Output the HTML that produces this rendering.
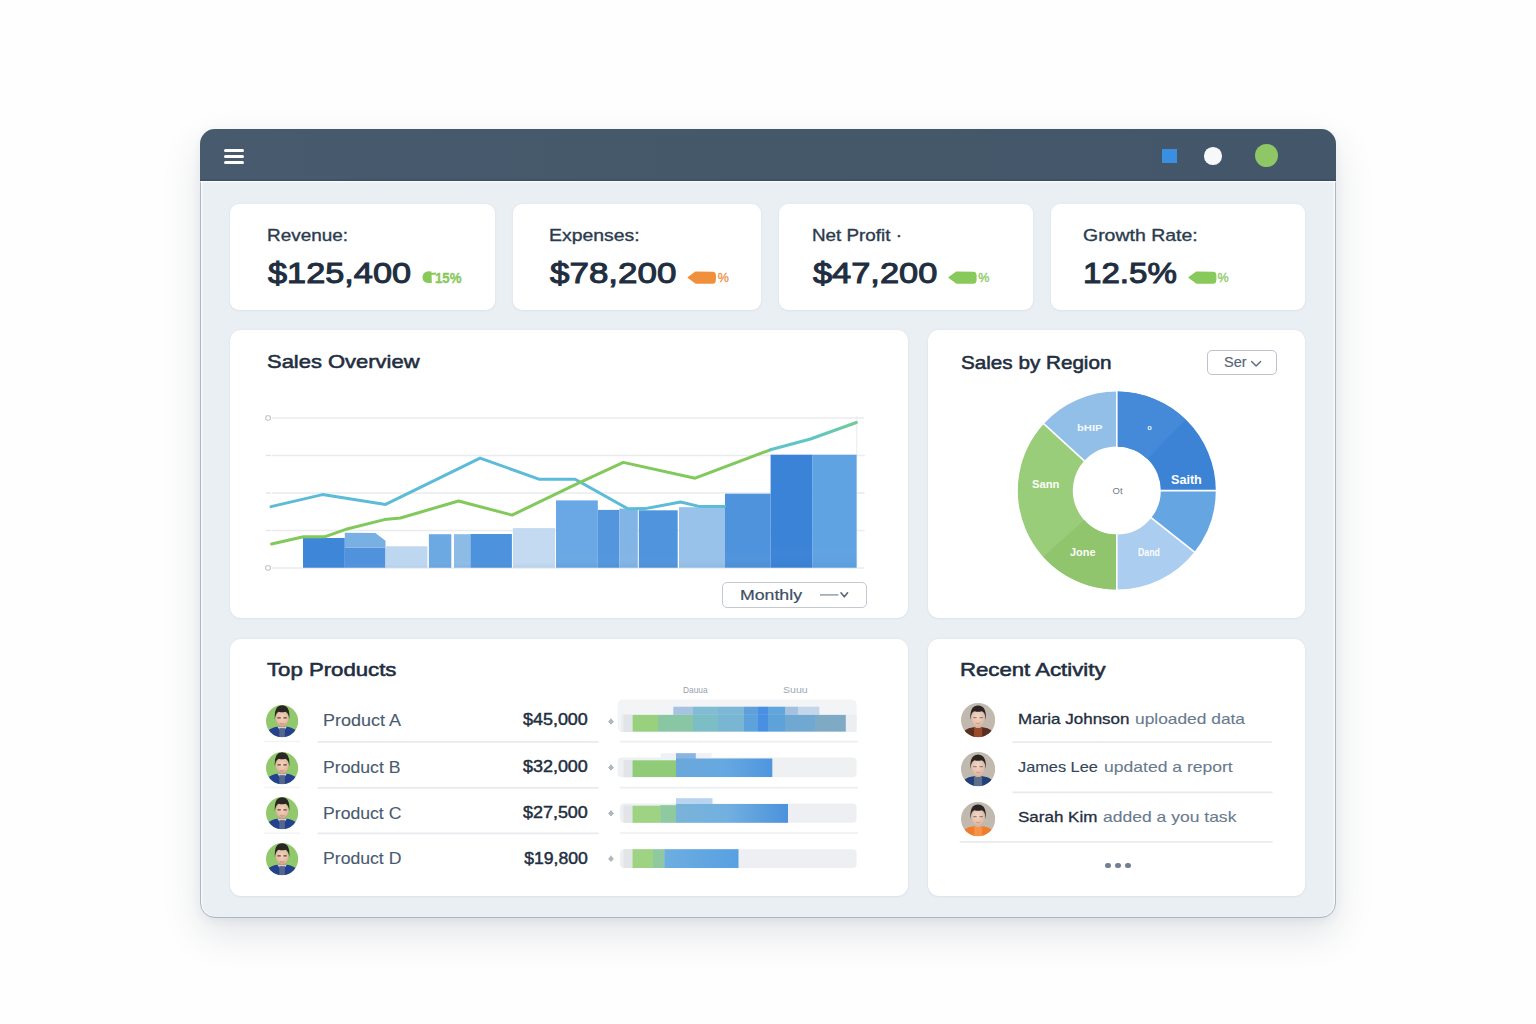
<!DOCTYPE html>
<html><head><meta charset="utf-8"><title>Sales Dashboard</title>
<style>
*{box-sizing:border-box;margin:0;padding:0}
html,body{width:1536px;height:1024px;overflow:hidden}
body{background:#fefefe;font-family:"Liberation Sans", Arial, sans-serif;position:relative}
.a{position:absolute}
.t{position:absolute;white-space:nowrap;line-height:1}
#frame{position:absolute;left:200px;top:129px;width:1136px;height:789px;border-radius:15px;background:#eaeff4;border:1.8px solid #a8b7c7;box-shadow:0 16px 38px rgba(40,55,80,.13),0 3px 10px rgba(40,55,80,.06),inset 1.5px 0 0 rgba(255,255,255,.6),inset -1.5px 0 0 rgba(255,255,255,.6)}
#hdr{position:absolute;left:200px;top:129px;width:1136px;height:52px;border-radius:15px 15px 0 0;background:linear-gradient(90deg,#485b6e,#45586a 50%,#44576a);box-shadow:inset 0 -2px 0 rgba(40,55,70,.22),0 1.5px 0 rgba(255,255,255,.55)}
.bar{position:absolute;left:224px;width:20px;height:3.6px;border-radius:2px;background:#fff}
.card{position:absolute;background:#fff;border-radius:9px;box-shadow:0 0 3px rgba(60,80,110,.07),0 1px 2px rgba(60,80,110,.04)}
.sep{position:absolute;height:1.5px;background:#e6e9ee}
svg{position:absolute;overflow:visible}
</style></head>
<body>
<div id="frame"></div>
<div id="hdr"></div>
<div class="bar" style="top:148.5px"></div>
<div class="bar" style="top:154.5px"></div>
<div class="bar" style="top:160.7px"></div>
<div class="a" style="left:1161.5px;top:148.7px;width:15px;height:14px;background:#3b8fe0"></div>
<div class="a" style="left:1204.2px;top:147.2px;width:17.6px;height:17.6px;border-radius:50%;background:#f7f8fa"></div>
<div class="a" style="left:1254.9px;top:144.3px;width:23px;height:23px;border-radius:50%;background:#90c766"></div>
<div class="card" style="left:230px;top:204px;width:264.5px;height:105.5px"></div>
<div class="card" style="left:513px;top:204px;width:248px;height:105.5px"></div>
<div class="card" style="left:779px;top:204px;width:253.5px;height:105.5px"></div>
<div class="card" style="left:1051px;top:204px;width:254px;height:105.5px"></div>
<div class="card" style="left:230px;top:330px;width:677.5px;height:288px;border-radius:11px"></div>
<div class="card" style="left:928px;top:330px;width:377px;height:288px;border-radius:11px"></div>
<div class="card" style="left:230px;top:638.5px;width:677.5px;height:257.5px;border-radius:11px"></div>
<div class="card" style="left:928px;top:638.5px;width:377px;height:257.5px;border-radius:11px"></div>
<div class="t" id="kl0" style="left:266.6px;top:227.58px;font-size:16.8px;color:#2b3b4e;font-weight:normal;-webkit-text-stroke:0.35px #2b3b4e;transform:scaleX(1.127);transform-origin:0 0;">Revenue:</div>
<div class="t" id="kl1" style="left:548.7px;top:227.58px;font-size:16.8px;color:#2b3b4e;font-weight:normal;-webkit-text-stroke:0.35px #2b3b4e;transform:scaleX(1.156);transform-origin:0 0;">Expenses:</div>
<div class="t" id="kl2" style="left:812.2px;top:227.58px;font-size:16.8px;color:#2b3b4e;font-weight:normal;-webkit-text-stroke:0.35px #2b3b4e;transform:scaleX(1.122);transform-origin:0 0;">Net Profit &middot;</div>
<div class="t" id="kl3" style="left:1083.3px;top:227.58px;font-size:16.8px;color:#2b3b4e;font-weight:normal;-webkit-text-stroke:0.35px #2b3b4e;transform:scaleX(1.160);transform-origin:0 0;">Growth Rate:</div>
<div class="t" id="kv0" style="left:267.6px;top:257.61px;font-size:30px;color:#1f2e40;font-weight:normal;-webkit-text-stroke:1.05px #1f2e40;transform:scaleX(1.143);transform-origin:0 0;">$125,400</div>
<div class="t" id="kv1" style="left:549.7px;top:257.61px;font-size:30px;color:#1f2e40;font-weight:normal;-webkit-text-stroke:1.05px #1f2e40;transform:scaleX(1.165);transform-origin:0 0;">$78,200</div>
<div class="t" id="kv2" style="left:813.2px;top:257.61px;font-size:30px;color:#1f2e40;font-weight:normal;-webkit-text-stroke:1.05px #1f2e40;transform:scaleX(1.146);transform-origin:0 0;">$47,200</div>
<div class="t" id="kv3" style="left:1082.8px;top:257.61px;font-size:30px;color:#1f2e40;font-weight:normal;-webkit-text-stroke:1.05px #1f2e40;transform:scaleX(1.104);transform-origin:0 0;">12.5%</div>
<svg class="a" style="left:0;top:0" width="1536" height="1024" viewBox="0 0 1536 1024"><path d="M422.5,277.2 Q423,272 428,271.3 L431.5,271.5 L431.8,283 L428,283 Q422.5,282.5 422.5,277.2 Z" fill="#88c95c"/><path d="M431,274 L436,273.5" stroke="#88c95c" stroke-width="2"/><path d="M688.2,277.45000000000005 L695.7,272.1 L712.8,272.40000000000003 Q715.3,272.6 715.3,275.45000000000005 L715.3,279.45000000000005 Q715.3,283.1 712.8,283.1 L695.7,283.1 Z" fill="#f0903c" stroke="#f0903c" stroke-width="1.2" stroke-linejoin="round"/><path d="M949,277.45000000000005 L956.5,272.1 L973.5,272.40000000000003 Q976,272.6 976,275.45000000000005 L976,279.45000000000005 Q976,283.1 973.5,283.1 L956.5,283.1 Z" fill="#88c95c" stroke="#88c95c" stroke-width="1.2" stroke-linejoin="round"/><path d="M1189,277.45000000000005 L1196.5,272.1 L1213.3,272.40000000000003 Q1215.8,272.6 1215.8,275.45000000000005 L1215.8,279.45000000000005 Q1215.8,283.1 1213.3,283.1 L1196.5,283.1 Z" fill="#88c95c" stroke="#88c95c" stroke-width="1.2" stroke-linejoin="round"/></svg>
<div class="t" id="p0" style="left:434.5px;top:270.95px;font-size:14px;color:#86c85a;font-weight:bold;-webkit-text-stroke:0.3px #86c85a;transform:scaleX(0.945);transform-origin:0 0;">15%</div>
<div class="t" style="left:717.8px;top:271.62px;font-size:12.5px;color:#ec8e45;font-weight:normal;-webkit-text-stroke:0.3px #ec8e45;">%</div>
<div class="t" style="left:978.2px;top:271.62px;font-size:12.5px;color:#86c85a;font-weight:normal;-webkit-text-stroke:0.3px #86c85a;">%</div>
<div class="t" style="left:1217.6px;top:271.62px;font-size:12.5px;color:#86c85a;font-weight:normal;-webkit-text-stroke:0.3px #86c85a;">%</div>
<div class="t" id="t0" style="left:266.6px;top:353.46px;font-size:18.6px;color:#1f2e40;font-weight:normal;-webkit-text-stroke:0.55px #1f2e40;transform:scaleX(1.181);transform-origin:0 0;">Sales Overview</div>
<div class="t" id="t1" style="left:960.6px;top:353.66px;font-size:18.6px;color:#1f2e40;font-weight:normal;-webkit-text-stroke:0.55px #1f2e40;transform:scaleX(1.111);transform-origin:0 0;">Sales by Region</div>
<div class="t" id="t2" style="left:267.0px;top:661.46px;font-size:18.6px;color:#1f2e40;font-weight:normal;-webkit-text-stroke:0.55px #1f2e40;transform:scaleX(1.193);transform-origin:0 0;">Top Products</div>
<div class="t" id="t3" style="left:960.0px;top:661.26px;font-size:18.6px;color:#1f2e40;font-weight:normal;-webkit-text-stroke:0.55px #1f2e40;transform:scaleX(1.193);transform-origin:0 0;">Recent Activity</div>
<svg class="a" style="left:0;top:0" width="1536" height="1024" viewBox="0 0 1536 1024"><defs><linearGradient id="bg" x1="0" y1="0" x2="0" y2="1"><stop offset="0" stop-color="#fff" stop-opacity="0"/><stop offset="0.8" stop-color="#fff" stop-opacity="0"/><stop offset="1" stop-color="#1a4f9a" stop-opacity="0.08"/></linearGradient><linearGradient id="tailg" gradientUnits="userSpaceOnUse" x1="770" y1="0" x2="857" y2="0"><stop offset="0" stop-color="#5cc4cc"/><stop offset="0.55" stop-color="#5fc6c4"/><stop offset="1" stop-color="#74cb92"/></linearGradient></defs><line x1="272" y1="418" x2="864" y2="418" stroke="#e9ebee" stroke-width="1.4"/><line x1="272" y1="455.5" x2="864" y2="455.5" stroke="#e9ebee" stroke-width="1.4"/><line x1="272" y1="493" x2="864" y2="493" stroke="#e9ebee" stroke-width="1.4"/><line x1="272" y1="530.5" x2="864" y2="530.5" stroke="#e9ebee" stroke-width="1.4"/><line x1="272" y1="568" x2="864" y2="568" stroke="#e9ebee" stroke-width="1.4"/><line x1="856.8" y1="416" x2="856.8" y2="569" stroke="#eceef0" stroke-width="1.2"/><rect x="265.8" y="415.8" width="4.6" height="4.4" rx="1.6" fill="none" stroke="#b9bec5" stroke-width="1.1"/><rect x="265.8" y="565.8" width="4.6" height="4.4" rx="1.6" fill="none" stroke="#b9bec5" stroke-width="1.1"/><line x1="266" y1="455.5" x2="271" y2="455.5" stroke="#dfe2e6" stroke-width="1.2"/><line x1="859" y1="455.5" x2="865" y2="455.5" stroke="#eceef0" stroke-width="1.2"/><line x1="266" y1="493" x2="271" y2="493" stroke="#dfe2e6" stroke-width="1.2"/><line x1="859" y1="493" x2="865" y2="493" stroke="#eceef0" stroke-width="1.2"/><line x1="266" y1="530.5" x2="271" y2="530.5" stroke="#dfe2e6" stroke-width="1.2"/><line x1="859" y1="530.5" x2="865" y2="530.5" stroke="#eceef0" stroke-width="1.2"/><rect x="303" y="538" width="41.8" height="29.7" fill="#3e86d8"/><rect x="303" y="538" width="41.8" height="29.7" fill="url(#bg)"/><rect x="344.8" y="547.5" width="40.7" height="20.2" fill="#5093dc"/><rect x="344.8" y="547.5" width="40.7" height="20.2" fill="url(#bg)"/><rect x="385.5" y="546.3" width="41.9" height="21.4" fill="#bdd7f0"/><rect x="385.5" y="546.3" width="41.9" height="21.4" fill="url(#bg)"/><rect x="428.9" y="534.2" width="22.4" height="33.5" fill="#6ca9e2"/><rect x="428.9" y="534.2" width="22.4" height="33.5" fill="url(#bg)"/><rect x="454" y="534.2" width="16.4" height="33.5" fill="#8cbce6"/><rect x="454" y="534.2" width="16.4" height="33.5" fill="url(#bg)"/><rect x="470.4" y="534" width="41.5" height="33.7" fill="#4c92dc"/><rect x="470.4" y="534" width="41.5" height="33.7" fill="url(#bg)"/><rect x="512.9" y="528.1" width="42.2" height="39.6" fill="#c3daf1"/><rect x="512.9" y="528.1" width="42.2" height="39.6" fill="url(#bg)"/><rect x="556" y="500.4" width="41.8" height="67.3" fill="#69a8e4"/><rect x="556" y="500.4" width="41.8" height="67.3" fill="url(#bg)"/><rect x="597.8" y="509.9" width="21.5" height="57.8" fill="#5396dd"/><rect x="597.8" y="509.9" width="21.5" height="57.8" fill="url(#bg)"/><rect x="619.3" y="508.6" width="18.5" height="59.1" fill="#82b5e5"/><rect x="619.3" y="508.6" width="18.5" height="59.1" fill="url(#bg)"/><rect x="638.8" y="510.3" width="38.9" height="57.4" fill="#5094dd"/><rect x="638.8" y="510.3" width="38.9" height="57.4" fill="url(#bg)"/><rect x="679" y="507.2" width="46.0" height="60.5" fill="#98c2ea"/><rect x="679" y="507.2" width="46.0" height="60.5" fill="url(#bg)"/><rect x="725" y="493.7" width="45.6" height="74.0" fill="#4f93dc"/><rect x="725" y="493.7" width="45.6" height="74.0" fill="url(#bg)"/><rect x="770.6" y="454.7" width="42.0" height="113.0" fill="#3b83d7"/><rect x="770.6" y="454.7" width="42.0" height="113.0" fill="url(#bg)"/><rect x="812.6" y="454.7" width="44.0" height="113.0" fill="#5fa3e3"/><rect x="812.6" y="454.7" width="44.0" height="113.0" fill="url(#bg)"/><path d="M344.8,532.7 L375.4,532.9 L385.5,540.7 L385.5,547.5 L344.8,547.5 Z" fill="#78b0e4"/><polyline points="271,506.6 322.5,494.6 385.6,504.4 480.1,458.1 539.6,479.3 575.1,479.3 627.9,508.8 645,508.6 680.6,502 700,506.6 724.5,506.4" fill="none" stroke="#5cbcd8" stroke-width="3" stroke-linejoin="round" stroke-linecap="round"/><polyline points="271.6,544 303.5,536.7 325.2,536.7 348,528.7 384.4,519.6 400.4,518 458.5,501 512.1,515.1 575.8,484.3 623.3,462.4 695.1,478.2 770.4,449.8" fill="none" stroke="#82c95c" stroke-width="3" stroke-linejoin="round" stroke-linecap="round"/><polyline points="770.4,449.8 810.5,439 856.4,422.5" fill="none" stroke="url(#tailg)" stroke-width="3" stroke-linejoin="round" stroke-linecap="round"/></svg>
<svg class="a" style="left:0;top:0" width="1536" height="1024" viewBox="0 0 1536 1024"><defs><linearGradient id="gA" x1="0" y1="0" x2="1" y2="1"><stop offset="0" stop-color="#4a92dd"/><stop offset="1" stop-color="#3a82d6"/></linearGradient><linearGradient id="gD" x1="0" y1="0" x2="0" y2="1"><stop offset="0" stop-color="#9bcf7c"/><stop offset="1" stop-color="#8ec56c"/></linearGradient></defs><path d="M1116.80,391.60 A99,99 0 0 1 1215.80,490.60 L1160.80,490.60 A44,44 0 0 0 1116.80,446.60 Z" fill="#3c83d6"/><path d="M1116.80,391.60 A99,99 0 0 1 1185.57,419.39 L1147.36,458.95 A44,44 0 0 0 1116.80,446.60 Z" fill="#458ad9"/><path d="M1215.80,490.60 A99,99 0 0 1 1194.49,551.96 L1151.33,517.87 A44,44 0 0 0 1160.80,490.60 Z" fill="#64a5e2"/><path d="M1194.49,551.96 A99,99 0 0 1 1116.80,589.60 L1116.80,534.60 A44,44 0 0 0 1151.33,517.87 Z" fill="#abcdef"/><path d="M1116.80,589.60 A99,99 0 0 1 1043.81,423.72 L1084.36,460.87 A44,44 0 0 0 1116.80,534.60 Z" fill="#9acd7a"/><path d="M1116.80,589.60 A99,99 0 0 1 1043.23,556.84 L1084.10,520.04 A44,44 0 0 0 1116.80,534.60 Z" fill="#90c56e"/><path d="M1043.81,423.72 A99,99 0 0 1 1116.80,391.60 L1116.80,446.60 A44,44 0 0 0 1084.36,460.87 Z" fill="#92bfe8"/><line x1="1116.80" y1="447.60" x2="1116.80" y2="390.60" stroke="#fff" stroke-width="1.6"/><line x1="1159.80" y1="490.60" x2="1216.80" y2="490.60" stroke="#fff" stroke-width="1.6"/><line x1="1150.55" y1="517.25" x2="1195.28" y2="552.58" stroke="#fff" stroke-width="1.6"/><line x1="1116.80" y1="533.60" x2="1116.80" y2="590.60" stroke="#fff" stroke-width="1.6"/><line x1="1085.10" y1="461.55" x2="1043.07" y2="423.04" stroke="#fff" stroke-width="1.6"/></svg>
<div class="a" style="left:722.4px;top:582.4px;width:145px;height:25.8px;border:1.5px solid #c3c9d1;border-radius:5px;background:#fff"></div>
<div class="t" id="mo" style="left:740.4px;top:588.21px;font-size:14.4px;color:#3e4f63;font-weight:normal;-webkit-text-stroke:0.2px #3e4f63;transform:scaleX(1.230);transform-origin:0 0;">Monthly</div>
<svg class="a" style="left:0;top:0" width="1536" height="1024" viewBox="0 0 1536 1024"><line x1="820" y1="594.9" x2="838.4" y2="594.9" stroke="#8d98a5" stroke-width="1.4"/><polyline points="841,592.8 844.3,596.8 847.6,592.8" fill="none" stroke="#5a6878" stroke-width="1.6" stroke-linecap="round" stroke-linejoin="round"/></svg>
<div class="a" style="left:1206.6px;top:350.1px;width:70.9px;height:25.3px;border:1.5px solid #bcc3cc;border-radius:5px;background:#fff"></div>
<div class="t" id="sv" style="left:1224.0px;top:355.43px;font-size:14.5px;color:#566475;font-weight:normal;-webkit-text-stroke:0.15px #566475;">Ser</div>
<svg class="a" style="left:0;top:0" width="1536" height="1024" viewBox="0 0 1536 1024"><polyline points="1251.6,361.4 1256.1,366 1260.6,361.4" fill="none" stroke="#5f6b7a" stroke-width="1.4" stroke-linecap="round" stroke-linejoin="round"/></svg>
<div class="t" id="dl0" style="left:1171.0px;top:473.96px;font-size:12px;color:#fff;font-weight:bold;transform:scaleX(1.050);transform-origin:0 0;">Saith</div>
<div class="t" id="dl1" style="left:1031.5px;top:479.15px;font-size:11px;color:#fbfdf9;font-weight:bold;transform:scaleX(1.022);transform-origin:0 0;">Sann</div>
<div class="t" id="dl2" style="left:1076.7px;top:423.33px;font-size:9.6px;color:#f4f8fc;font-weight:bold;transform:scaleX(1.171);transform-origin:0 0;">bHIP</div>
<div class="t" id="dl3" style="left:1069.5px;top:548.34px;font-size:10px;color:#fbfdf9;font-weight:bold;transform:scaleX(1.092);transform-origin:0 0;">Jone</div>
<div class="t" id="dl4" style="left:1138.0px;top:548.34px;font-size:10px;color:#fbfdff;font-weight:bold;transform:scaleX(0.872);transform-origin:0 0;">Dand</div>
<div class="t" id="dl5" style="left:1147.2px;top:424.35px;font-size:7.5px;color:#e8f0fa;font-weight:bold;">o</div>
<div class="t" id="dl6" style="left:1112.6px;top:486.08px;font-size:9.5px;color:#6f7b8a;font-weight:normal;">Ot</div>
<svg class="a" style="left:266.3px;top:705.3px" width="32.2" height="32.2" viewBox="-16 -16 32 32"><defs><clipPath id="cp0"><circle cx="0" cy="0" r="16"/></clipPath><radialGradient id="fp0" cx="0.5" cy="0.42" r="0.62"><stop offset="0" stop-color="#f1d2bf"/><stop offset="0.7" stop-color="#e6bda4"/><stop offset="1" stop-color="#c99a82"/></radialGradient></defs><g clip-path="url(#cp0)"><rect x="-16" y="-16" width="32" height="32" fill="#90c86b"/><path d="M-15,16 L-13.5,9.5 Q-11,6.6 -4.8,5.6 L4.8,5.6 Q11,6.6 13.5,9.5 L15,16 Z" fill="#23418f"/><path d="M-4.6,5.6 L-2.2,9 L2.2,9 L4.6,5.6 Z" fill="#dfe4ea"/><rect x="-2.8" y="7" width="5.6" height="9" fill="#55678a"/><rect x="-3" y="2.2" width="6" height="4" fill="#c49a84"/><ellipse cx="0" cy="-2.4" rx="6.4" ry="7.6" fill="url(#fp0)"/><path d="M-7.2,-1.5 Q-8.2,-15.8 0,-15.8 Q8.2,-15.8 7.2,-1.5 Q6.6,-8.4 3.2,-9.4 Q0,-8.4 -3.2,-9.4 Q-6.6,-8.4 -7.2,-1.5 Z" fill="#2b2625"/><path d="M-4.6,-3.2 h3.3 M1.3,-3.2 h3.3" stroke="#5e4038" stroke-width="1"/><path d="M-2.2,2.4 q2.2,1.2 4.4,0" stroke="#b47a68" stroke-width="0.7" fill="none"/></g></svg>
<div class="t" id="pn0" style="left:323.0px;top:713.06px;font-size:16px;color:#4a5a6e;font-weight:normal;-webkit-text-stroke:0.1px #4a5a6e;transform:scaleX(1.123);transform-origin:0 0;">Product A</div>
<div class="t" id="pv0" style="right:948.6px;top:712.46px;font-size:16px;color:#1f2e40;font-weight:normal;-webkit-text-stroke:0.45px #1f2e40;transform:scaleX(1.122);transform-origin:100% 0;">$45,000</div>
<svg class="a" style="left:266.3px;top:751.9px" width="32.2" height="32.2" viewBox="-16 -16 32 32"><defs><clipPath id="cp1"><circle cx="0" cy="0" r="16"/></clipPath><radialGradient id="fp1" cx="0.5" cy="0.42" r="0.62"><stop offset="0" stop-color="#f1d2bf"/><stop offset="0.7" stop-color="#e6bda4"/><stop offset="1" stop-color="#c99a82"/></radialGradient></defs><g clip-path="url(#cp1)"><rect x="-16" y="-16" width="32" height="32" fill="#90c86b"/><path d="M-15,16 L-13.5,9.5 Q-11,6.6 -4.8,5.6 L4.8,5.6 Q11,6.6 13.5,9.5 L15,16 Z" fill="#23418f"/><path d="M-4.6,5.6 L-2.2,9 L2.2,9 L4.6,5.6 Z" fill="#dfe4ea"/><rect x="-2.8" y="7" width="5.6" height="9" fill="#55678a"/><rect x="-3" y="2.2" width="6" height="4" fill="#c49a84"/><ellipse cx="0" cy="-2.4" rx="6.4" ry="7.6" fill="url(#fp1)"/><path d="M-7.2,-1.5 Q-8.2,-15.8 0,-15.8 Q8.2,-15.8 7.2,-1.5 Q6.6,-8.4 3.2,-9.4 Q0,-8.4 -3.2,-9.4 Q-6.6,-8.4 -7.2,-1.5 Z" fill="#2b2625"/><path d="M-4.6,-3.2 h3.3 M1.3,-3.2 h3.3" stroke="#5e4038" stroke-width="1"/><path d="M-2.2,2.4 q2.2,1.2 4.4,0" stroke="#b47a68" stroke-width="0.7" fill="none"/></g></svg>
<div class="t" id="pn1" style="left:323.0px;top:759.96px;font-size:16px;color:#4a5a6e;font-weight:normal;-webkit-text-stroke:0.1px #4a5a6e;transform:scaleX(1.103);transform-origin:0 0;">Product B</div>
<div class="t" id="pv1" style="right:948.6px;top:759.36px;font-size:16px;color:#1f2e40;font-weight:normal;-webkit-text-stroke:0.45px #1f2e40;transform:scaleX(1.122);transform-origin:100% 0;">$32,000</div>
<svg class="a" style="left:266.3px;top:797.2px" width="32.2" height="32.2" viewBox="-16 -16 32 32"><defs><clipPath id="cp2"><circle cx="0" cy="0" r="16"/></clipPath><radialGradient id="fp2" cx="0.5" cy="0.42" r="0.62"><stop offset="0" stop-color="#f1d2bf"/><stop offset="0.7" stop-color="#e6bda4"/><stop offset="1" stop-color="#c99a82"/></radialGradient></defs><g clip-path="url(#cp2)"><rect x="-16" y="-16" width="32" height="32" fill="#90c86b"/><path d="M-15,16 L-13.5,9.5 Q-11,6.6 -4.8,5.6 L4.8,5.6 Q11,6.6 13.5,9.5 L15,16 Z" fill="#23418f"/><path d="M-4.6,5.6 L-2.2,9 L2.2,9 L4.6,5.6 Z" fill="#dfe4ea"/><rect x="-2.8" y="7" width="5.6" height="9" fill="#55678a"/><rect x="-3" y="2.2" width="6" height="4" fill="#c49a84"/><ellipse cx="0" cy="-2.4" rx="6.4" ry="7.6" fill="url(#fp2)"/><path d="M-7.2,-1.5 Q-8.2,-15.8 0,-15.8 Q8.2,-15.8 7.2,-1.5 Q6.6,-8.4 3.2,-9.4 Q0,-8.4 -3.2,-9.4 Q-6.6,-8.4 -7.2,-1.5 Z" fill="#2b2625"/><path d="M-4.6,-3.2 h3.3 M1.3,-3.2 h3.3" stroke="#5e4038" stroke-width="1"/><path d="M-2.2,2.4 q2.2,1.2 4.4,0" stroke="#b47a68" stroke-width="0.7" fill="none"/></g></svg>
<div class="t" id="pn2" style="left:323.0px;top:805.86px;font-size:16px;color:#4a5a6e;font-weight:normal;-webkit-text-stroke:0.1px #4a5a6e;transform:scaleX(1.102);transform-origin:0 0;">Product C</div>
<div class="t" id="pv2" style="right:948.6px;top:805.26px;font-size:16px;color:#1f2e40;font-weight:normal;-webkit-text-stroke:0.45px #1f2e40;transform:scaleX(1.122);transform-origin:100% 0;">$27,500</div>
<svg class="a" style="left:266.3px;top:842.7px" width="32.2" height="32.2" viewBox="-16 -16 32 32"><defs><clipPath id="cp3"><circle cx="0" cy="0" r="16"/></clipPath><radialGradient id="fp3" cx="0.5" cy="0.42" r="0.62"><stop offset="0" stop-color="#f1d2bf"/><stop offset="0.7" stop-color="#e6bda4"/><stop offset="1" stop-color="#c99a82"/></radialGradient></defs><g clip-path="url(#cp3)"><rect x="-16" y="-16" width="32" height="32" fill="#90c86b"/><path d="M-15,16 L-13.5,9.5 Q-11,6.6 -4.8,5.6 L4.8,5.6 Q11,6.6 13.5,9.5 L15,16 Z" fill="#23418f"/><path d="M-4.6,5.6 L-2.2,9 L2.2,9 L4.6,5.6 Z" fill="#dfe4ea"/><rect x="-2.8" y="7" width="5.6" height="9" fill="#55678a"/><rect x="-3" y="2.2" width="6" height="4" fill="#c49a84"/><ellipse cx="0" cy="-2.4" rx="6.4" ry="7.6" fill="url(#fp3)"/><path d="M-7.2,-1.5 Q-8.2,-15.8 0,-15.8 Q8.2,-15.8 7.2,-1.5 Q6.6,-8.4 3.2,-9.4 Q0,-8.4 -3.2,-9.4 Q-6.6,-8.4 -7.2,-1.5 Z" fill="#2b2625"/><path d="M-4.6,-3.2 h3.3 M1.3,-3.2 h3.3" stroke="#5e4038" stroke-width="1"/><path d="M-2.2,2.4 q2.2,1.2 4.4,0" stroke="#b47a68" stroke-width="0.7" fill="none"/></g></svg>
<div class="t" id="pn3" style="left:323.0px;top:851.26px;font-size:16px;color:#4a5a6e;font-weight:normal;-webkit-text-stroke:0.1px #4a5a6e;transform:scaleX(1.102);transform-origin:0 0;">Product D</div>
<div class="t" id="pv3" style="right:948.6px;top:850.66px;font-size:16px;color:#1f2e40;font-weight:normal;-webkit-text-stroke:0.45px #1f2e40;transform:scaleX(1.100);transform-origin:100% 0;">$19,800</div>
<svg class="a" style="left:0;top:0" width="1536" height="1024" viewBox="0 0 1536 1024"><line x1="317.7" y1="741.8" x2="598.7" y2="741.8" stroke="#e7eaee" stroke-width="1.7"/><line x1="317.7" y1="787.8" x2="598.7" y2="787.8" stroke="#e7eaee" stroke-width="1.7"/><line x1="317.7" y1="833.3" x2="598.7" y2="833.3" stroke="#e7eaee" stroke-width="1.7"/><line x1="264" y1="741.6" x2="300" y2="741.6" stroke="#f1f3f5" stroke-width="1.5"/><line x1="264" y1="787.6" x2="300" y2="787.6" stroke="#f1f3f5" stroke-width="1.5"/><line x1="264" y1="833.2" x2="300" y2="833.2" stroke="#f1f3f5" stroke-width="1.5"/><line x1="1012.6" y1="742.2" x2="1272" y2="742.2" stroke="#e7eaee" stroke-width="1.7"/><line x1="1012.6" y1="792.4" x2="1272.6" y2="792.4" stroke="#e7eaee" stroke-width="1.7"/><line x1="959.6" y1="841.8" x2="1272.6" y2="841.8" stroke="#e7eaee" stroke-width="1.7"/></svg>
<svg class="a" style="left:0;top:0" width="1536" height="1024" viewBox="0 0 1536 1024"><defs><linearGradient id="pb1" x1="0" x2="1" y1="0" y2="0"><stop offset="0.0000" stop-color="#98d07e"/><stop offset="0.1173" stop-color="#98d07e"/><stop offset="0.1173" stop-color="#88c6a4"/><stop offset="0.2838" stop-color="#88c6a4"/><stop offset="0.2838" stop-color="#7cbec6"/><stop offset="0.4001" stop-color="#7cbec6"/><stop offset="0.4001" stop-color="#78b6d4"/><stop offset="0.5206" stop-color="#78b6d4"/><stop offset="0.5206" stop-color="#5ea2dc"/><stop offset="0.5891" stop-color="#5ea2dc"/><stop offset="0.5891" stop-color="#4a90e2"/><stop offset="0.6351" stop-color="#4a90e2"/><stop offset="0.6351" stop-color="#5ea2da"/><stop offset="0.7148" stop-color="#5ea2da"/><stop offset="0.7148" stop-color="#70a8d2"/><stop offset="0.8565" stop-color="#70a8d2"/><stop offset="0.8565" stop-color="#7eaac6"/><stop offset="1.0000" stop-color="#7eaac6"/></linearGradient><linearGradient id="pb2" x1="0" x2="1" y1="0" y2="0"><stop offset="0" stop-color="#6aa8da"/><stop offset="0.5" stop-color="#66a8e2"/><stop offset="1" stop-color="#4f96de"/></linearGradient><linearGradient id="pb3" x1="0" x2="1" y1="0" y2="0"><stop offset="0" stop-color="#7ab3d8"/><stop offset="0.45" stop-color="#72b0e0"/><stop offset="1" stop-color="#4c92dc"/></linearGradient><linearGradient id="pb4" x1="0" x2="1" y1="0" y2="0"><stop offset="0" stop-color="#6eaee0"/><stop offset="1" stop-color="#57a0e2"/></linearGradient><linearGradient id="st1" x1="0" x2="1" y1="0" y2="0"><stop offset="0.0000" stop-color="#a6c4e2"/><stop offset="0.1356" stop-color="#a6c4e2"/><stop offset="0.1356" stop-color="#80bcd4"/><stop offset="0.3055" stop-color="#80bcd4"/><stop offset="0.3055" stop-color="#7cb8d6"/><stop offset="0.4815" stop-color="#7cb8d6"/><stop offset="0.4815" stop-color="#5ea0dc"/><stop offset="0.5815" stop-color="#5ea0dc"/><stop offset="0.5815" stop-color="#4890e4"/><stop offset="0.6486" stop-color="#4890e4"/><stop offset="0.6486" stop-color="#62a4dc"/><stop offset="0.7651" stop-color="#62a4dc"/><stop offset="0.7651" stop-color="#a4c2e0"/><stop offset="0.8548" stop-color="#a4c2e0"/><stop offset="0.8548" stop-color="#c4d6ea"/><stop offset="1.0000" stop-color="#c4d6ea"/></linearGradient></defs><rect x="617.6" y="699.6" width="239" height="32.5" rx="5" fill="#f3f4f6"/><rect x="621" y="714.6" width="235.6" height="17.5" fill="#eceef1"/><rect x="617.6" y="757.6" width="239" height="19.7" rx="4" fill="#eef0f2"/><rect x="620" y="803.5" width="236.6" height="19.3" rx="4" fill="#edeff2"/><rect x="620" y="849.2" width="236.6" height="18.8" rx="4" fill="#edeff2"/><rect x="623.5" y="714.6" width="9" height="17.4" fill="#e2e5e8"/><rect x="623.5" y="760" width="9" height="17.3" fill="#e2e5e8"/><rect x="623.5" y="805.6" width="9" height="17.2" fill="#e2e5e8"/><rect x="623.5" y="849.2" width="9" height="18.8" fill="#e2e5e8"/><rect x="673.3" y="706.7" width="146" height="8.2" fill="url(#st1)"/><rect x="632.6" y="714.9" width="213.2" height="16.7" fill="url(#pb1)"/><rect x="660.6" y="753.2" width="51" height="6.8" fill="#eef2f7"/><rect x="676" y="753.2" width="19.8" height="6.8" fill="#8ab4e0"/><rect x="632.5" y="760.3" width="43.5" height="16.7" fill="#90cc78"/><rect x="676" y="758.5" width="96.3" height="18.5" fill="url(#pb2)"/><rect x="676" y="798.2" width="36.5" height="6" fill="#b8d4f0"/><rect x="632.5" y="805.7" width="27.6" height="17.1" fill="#9fd384"/><rect x="660.1" y="805.2" width="16" height="17.6" fill="#8ec9a0"/><rect x="676" y="804" width="112" height="18.8" fill="url(#pb3)"/><rect x="632.5" y="849.2" width="20.5" height="18.8" fill="#9fd384"/><rect x="653" y="849.2" width="11.2" height="18.8" fill="#8ec9a0"/><rect x="664.2" y="849.2" width="74.3" height="18.8" fill="url(#pb4)"/><path d="M611,718.4 L611,720.6 M608.6,721.6 L611,724.2 L613.4,721.6 L611,719.4 Z" stroke="#a9b0b9" stroke-width="1" fill="#b3b9c1"/><path d="M611,764.3 L611,766.5 M608.6,767.5 L611,770.1 L613.4,767.5 L611,765.3 Z" stroke="#a9b0b9" stroke-width="1" fill="#b3b9c1"/><path d="M611,810.0999999999999 L611,812.3 M608.6,813.3 L611,815.9 L613.4,813.3 L611,811.0999999999999 Z" stroke="#a9b0b9" stroke-width="1" fill="#b3b9c1"/><path d="M611,855.5999999999999 L611,857.8 M608.6,858.8 L611,861.4 L613.4,858.8 L611,856.5999999999999 Z" stroke="#a9b0b9" stroke-width="1" fill="#b3b9c1"/><line x1="620" y1="741.6" x2="858" y2="741.6" stroke="#eceef1" stroke-width="1.6"/><line x1="620" y1="787.6" x2="858" y2="787.6" stroke="#eceef1" stroke-width="1.6"/><line x1="620" y1="833.0" x2="858" y2="833.0" stroke="#eceef1" stroke-width="1.6"/></svg>
<div class="t" id="lb0" style="left:682.6px;top:686.01px;font-size:9.2px;color:#96a0ac;font-weight:normal;transform:scaleX(0.908);transform-origin:0 0;">Dauua</div>
<div class="t" id="lb1" style="left:782.8px;top:686.01px;font-size:9.2px;color:#a0a9b4;font-weight:normal;transform:scaleX(1.146);transform-origin:0 0;">Suuu</div>
<svg class="a" style="left:961.3px;top:703.2px" width="34.2" height="34.2" viewBox="-17 -17 34 34"><defs><clipPath id="ca0"><circle cx="0" cy="0" r="17"/></clipPath><radialGradient id="fa0" cx="0.45" cy="0.4" r="0.6"><stop offset="0" stop-color="#f2d8c8"/><stop offset="1" stop-color="#e2b8a2"/></radialGradient></defs><g clip-path="url(#ca0)"><rect x="-17" y="-17" width="34" height="34" fill="#c1b8ae"/><path d="M-15,17 L-13,10 Q-10,7.4 -4.5,7 L4.5,7 Q10,7.4 13,10 L15,17 Z" fill="#5a2f22"/><rect x="-4" y="7.2" width="8" height="10" fill="#9a4b2e"/><rect x="-2.6" y="3.6" width="5.2" height="4.2" fill="#d8b4a0"/><ellipse cx="0" cy="-2" rx="6.4" ry="8" fill="url(#fa0)"/><path d="M-7.6,0 Q-8.8,-14.5 0,-14.6 Q8.8,-14.5 7.6,0 Q7.2,-8.2 3.5,-8.8 Q0,-7.6 -3.5,-8.8 Q-7.2,-8.2 -7.6,0 Z" fill="#2a2525"/><path d="M-4.8,-2.4 h3.4 M1.4,-2.4 h3.4" stroke="#80605a" stroke-width="0.9"/><path d="M-2.2,3 q2.2,1.3 4.4,0" stroke="#c48a78" stroke-width="0.7" fill="none"/></g></svg>
<div class="t" id="an0" style="left:1018.1px;top:711.84px;font-size:14.6px;color:#1f2e40;font-weight:normal;-webkit-text-stroke:0.3px #1f2e40;transform:scaleX(1.165);transform-origin:0 0;">Maria Johnson</div>
<div class="t" id="aa0" style="left:1135.3px;top:711.84px;font-size:14.6px;color:#6a7a8e;font-weight:normal;-webkit-text-stroke:0.1px #6a7a8e;transform:scaleX(1.189);transform-origin:0 0;">uploaded data</div>
<svg class="a" style="left:961.3px;top:751.9px" width="34.2" height="34.2" viewBox="-17 -17 34 34"><defs><clipPath id="ca1"><circle cx="0" cy="0" r="17"/></clipPath><radialGradient id="fa1" cx="0.45" cy="0.4" r="0.6"><stop offset="0" stop-color="#f2d8c8"/><stop offset="1" stop-color="#e2b8a2"/></radialGradient></defs><g clip-path="url(#ca1)"><rect x="-17" y="-17" width="34" height="34" fill="#c1b8ae"/><path d="M-15,17 L-13,10 Q-10,7.4 -4.5,7 L4.5,7 Q10,7.4 13,10 L15,17 Z" fill="#213f78"/><rect x="-4" y="7.2" width="8" height="10" fill="#5e6f8c"/><rect x="-2.6" y="3.6" width="5.2" height="4.2" fill="#d8b4a0"/><ellipse cx="0" cy="-2" rx="6.4" ry="8" fill="url(#fa1)"/><path d="M-7.6,0 Q-8.8,-14.5 0,-14.6 Q8.8,-14.5 7.6,0 Q7.2,-8.2 3.5,-8.8 Q0,-7.6 -3.5,-8.8 Q-7.2,-8.2 -7.6,0 Z" fill="#2a2525"/><path d="M-4.8,-2.4 h3.4 M1.4,-2.4 h3.4" stroke="#80605a" stroke-width="0.9"/><path d="M-2.2,3 q2.2,1.3 4.4,0" stroke="#c48a78" stroke-width="0.7" fill="none"/></g></svg>
<div class="t" id="an1" style="left:1018.1px;top:760.14px;font-size:14.6px;color:#33455a;font-weight:normal;-webkit-text-stroke:0.15px #33455a;transform:scaleX(1.118);transform-origin:0 0;">James Lee</div>
<div class="t" id="aa1" style="left:1104.0px;top:760.14px;font-size:14.6px;color:#6a7a8e;font-weight:normal;-webkit-text-stroke:0.1px #6a7a8e;transform:scaleX(1.202);transform-origin:0 0;">updated a report</div>
<svg class="a" style="left:961.3px;top:801.6px" width="34.2" height="34.2" viewBox="-17 -17 34 34"><defs><clipPath id="ca2"><circle cx="0" cy="0" r="17"/></clipPath><radialGradient id="fa2" cx="0.45" cy="0.4" r="0.6"><stop offset="0" stop-color="#f2d8c8"/><stop offset="1" stop-color="#e2b8a2"/></radialGradient></defs><g clip-path="url(#ca2)"><rect x="-17" y="-17" width="34" height="34" fill="#c1b8ae"/><path d="M-15,17 L-13,10 Q-10,7.4 -4.5,7 L4.5,7 Q10,7.4 13,10 L15,17 Z" fill="#f07c2c"/><rect x="-4" y="7.2" width="8" height="10" fill="#f4934a"/><rect x="-2.6" y="3.6" width="5.2" height="4.2" fill="#d8b4a0"/><ellipse cx="0" cy="-2" rx="6.4" ry="8" fill="url(#fa2)"/><path d="M-7.6,0 Q-8.8,-14.5 0,-14.6 Q8.8,-14.5 7.6,0 Q7.2,-8.2 3.5,-8.8 Q0,-7.6 -3.5,-8.8 Q-7.2,-8.2 -7.6,0 Z" fill="#2a2525"/><path d="M-4.8,-2.4 h3.4 M1.4,-2.4 h3.4" stroke="#80605a" stroke-width="0.9"/><path d="M-2.2,3 q2.2,1.3 4.4,0" stroke="#c48a78" stroke-width="0.7" fill="none"/></g></svg>
<div class="t" id="an2" style="left:1018.1px;top:809.84px;font-size:14.6px;color:#1f2e40;font-weight:normal;-webkit-text-stroke:0.3px #1f2e40;transform:scaleX(1.164);transform-origin:0 0;">Sarah Kim</div>
<div class="t" id="aa2" style="left:1102.8px;top:809.84px;font-size:14.6px;color:#6a7a8e;font-weight:normal;-webkit-text-stroke:0.1px #6a7a8e;transform:scaleX(1.200);transform-origin:0 0;">added a you task</div>
<div class="a" style="left:1104.8999999999999px;top:862.5px;width:5.8px;height:5.8px;border-radius:50%;background:#718094"></div>
<div class="a" style="left:1114.8px;top:862.5px;width:5.8px;height:5.8px;border-radius:50%;background:#718094"></div>
<div class="a" style="left:1124.8999999999999px;top:862.5px;width:5.8px;height:5.8px;border-radius:50%;background:#718094"></div>
</body></html>
